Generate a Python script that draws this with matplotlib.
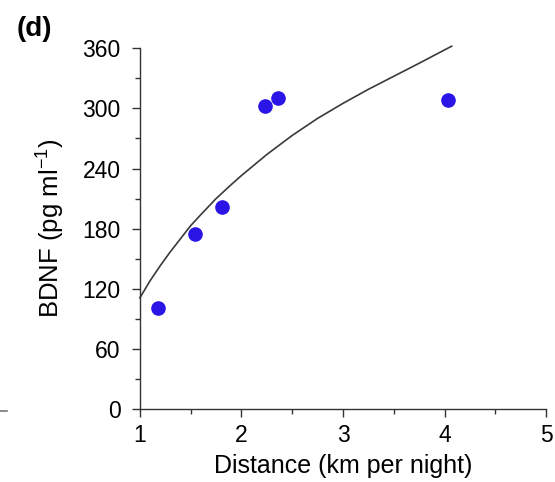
import matplotlib.pyplot as plt
from matplotlib.lines import Line2D
from matplotlib.ticker import MultipleLocator

plt.rcParams['font.family'] = ['Liberation Sans', 'DejaVu Sans']
plt.rcParams['mathtext.fontset'] = 'custom'
plt.rcParams['mathtext.rm'] = 'Liberation Sans'
plt.rcParams['mathtext.it'] = 'Liberation Sans:italic'

# measured points
distance = [1.175, 1.54, 1.81, 2.235, 2.36, 4.03]
bdnf = [101, 175, 202, 302, 310, 308]

# fitted curve
curve_x = [1.0, 1.1, 1.2, 1.3, 1.4, 1.5, 1.6, 1.75, 1.9, 2.0, 2.25, 2.5,
           2.75, 3.0, 3.25, 3.5, 3.75, 4.07]
curve_y = [111, 128, 143, 157, 170, 183, 194, 210, 224, 233, 254, 273,
           290, 305, 319, 332, 345, 362]

fig = plt.figure(figsize=(5.55, 4.82), dpi=100)
ax = fig.add_axes([0.252, 0.151, 0.732, 0.749])

ax.plot(curve_x, curve_y, color='#3a3a3a', lw=1.2, clip_on=False, zorder=2)
ax.plot(distance, bdnf, 'o', color='#2a14e6', ms=9.5, mec='#2a14e6', zorder=3,
        clip_on=False)

ax.set_xlim(1, 5)
ax.set_ylim(0, 360)
ax.xaxis.set_major_locator(MultipleLocator(1))
ax.xaxis.set_minor_locator(MultipleLocator(0.5))
ax.yaxis.set_major_locator(MultipleLocator(60))
ax.yaxis.set_minor_locator(MultipleLocator(30))

for s in ['top', 'right']:
    ax.spines[s].set_visible(False)
for s in ['left', 'bottom']:
    ax.spines[s].set_linewidth(1.0)
    ax.spines[s].set_color('#333333')

ax.tick_params(which='major', direction='out', length=5.8, width=1.0,
               labelsize=16.5, color='#333333')
ax.tick_params(axis='y', which='major', pad=8)
ax.tick_params(axis='x', which='major', pad=5)
ax.tick_params(which='minor', direction='out', length=3.6, width=1.0,
               color='#333333')

ax.set_xlabel('Distance (km per night)', fontsize=18, labelpad=5)
ax.set_ylabel('BDNF (pg ml$^{-1}$)', fontsize=18.5, labelpad=11)

fig.text(0.03, 0.925, '(d)', fontsize=20, fontweight='bold')
fig.add_artist(Line2D([0.0, 0.013], [0.147, 0.147], color='#777777', lw=1.2))

fig.savefig('out.png', dpi=100)
